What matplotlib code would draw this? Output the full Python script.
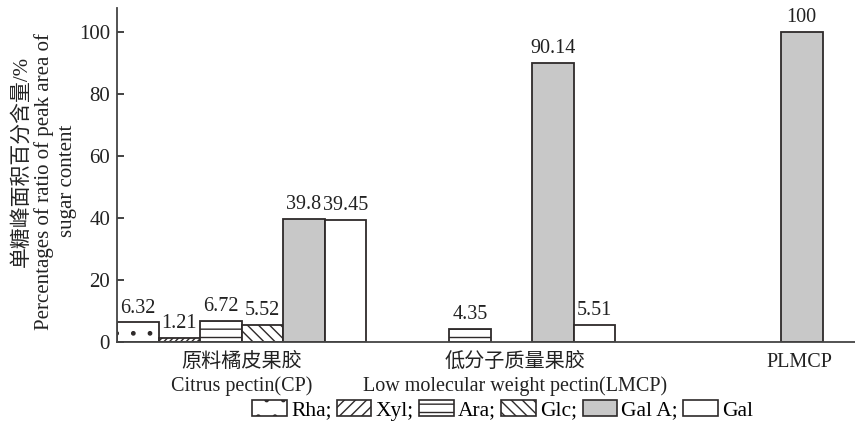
import numpy as np
import matplotlib
matplotlib.use("Agg")
import matplotlib.pyplot as plt
from matplotlib.patches import Patch

plt.rcParams['font.family'] = ['Liberation Serif', 'Noto Sans CJK SC', 'DejaVu Sans']
plt.rcParams['hatch.linewidth'] = 1.0

# 样品与单糖
groups = ['原料橘皮果胶\nCitrus pectin(CP)',
          '低分子质量果胶\nLow molecular weight pectin(LMCP)',
          'PLMCP']
group_label_pos = [3.0, 9.6, 16.45]
sugars = ['Rha', 'Xyl', 'Ara', 'Glc', 'Gal A', 'Gal']

# 各单糖峰面积百分含量 (%)，顺序与 groups 对应
rha = [6.32, 0, 0]
xyl = [1.21, 0, 0]
ara = [6.72, 4.35, 0]
glc = [5.52, 0, 0]
gala = [39.8, 90.14, 100]
gal = [39.45, 5.51, 0]

series = [rha, xyl, ara, glc, gala, gal]
fills = ['white', 'white', 'white', 'white', '#c8c8c8', 'white']
hatches = ['.', '//////', '--', '\\\\\\', None, None]
legend_hatches = ['.', '///', '--', '\\\\\\', None, None]
edge = '#2e2a2a'
txt = '#222222'

fig = plt.figure(figsize=(8.55, 4.32), dpi=100)
ax = fig.add_axes([117 / 855, 1 - 342 / 432, 1 - 117 / 855, 334 / 432])

n_sugar = len(sugars)
for i, vals in enumerate(series):
    for g, v in enumerate(vals):
        if v <= 0:
            continue
        x = g * n_sugar + i
        ax.bar(x, v, width=1.0, align='edge', color=fills[i], edgecolor=edge,
               linewidth=1.3, hatch=hatches[i])
        ax.annotate(f'{v:g}', xy=(x + 0.5, v), xytext=(0, 3.5),
                    textcoords='offset points', ha='center', va='bottom',
                    fontsize=14.5, color=txt)

ax.set_xlim(0, 738 / 41.5)
ax.set_ylim(0, 107.8)
ax.set_yticks([0, 20, 40, 60, 80, 100])
ax.tick_params(axis='y', direction='in', length=5, width=1.2, pad=5,
               labelsize=15, colors=txt)
ax.set_xticks(group_label_pos)
ax.set_xticklabels(groups, fontsize=14.5, color=txt, linespacing=1.25)
ax.tick_params(axis='x', length=0, pad=8)

for s in ['top', 'right']:
    ax.spines[s].set_visible(False)
for s in ['left', 'bottom']:
    ax.spines[s].set_linewidth(1.3)
    ax.spines[s].set_color('#444444')

# 纵轴标题（三行）
fig.text(22 / 855, 1 - 161 / 432, '单糖峰面积百分含量/%', rotation=90,
         ha='center', va='center', fontsize=15, color=txt)
fig.text(44 / 855, 1 - 182 / 432, 'Percentages of ratio of peak area of',
         rotation=90, ha='center', va='center', fontsize=15, color=txt)
fig.text(67 / 855, 1 - 181 / 432, 'sugar content', rotation=90,
         ha='center', va='center', fontsize=15, color=txt)

handles = [Patch(facecolor=fills[i], edgecolor=edge, linewidth=1.2,
                 hatch=legend_hatches[i]) for i in range(n_sugar)]
labels = [s + ';' for s in sugars[:-1]] + [sugars[-1]]
fig.legend(handles, labels, loc='center', bbox_to_anchor=(0.588, 0.05),
           ncol=6, frameon=False, fontsize=15.5, handlelength=1.6,
           handleheight=0.75, handletextpad=0.2, columnspacing=0.25,
           borderpad=0.1)

fig.savefig('out.png', dpi=100, facecolor='white')
